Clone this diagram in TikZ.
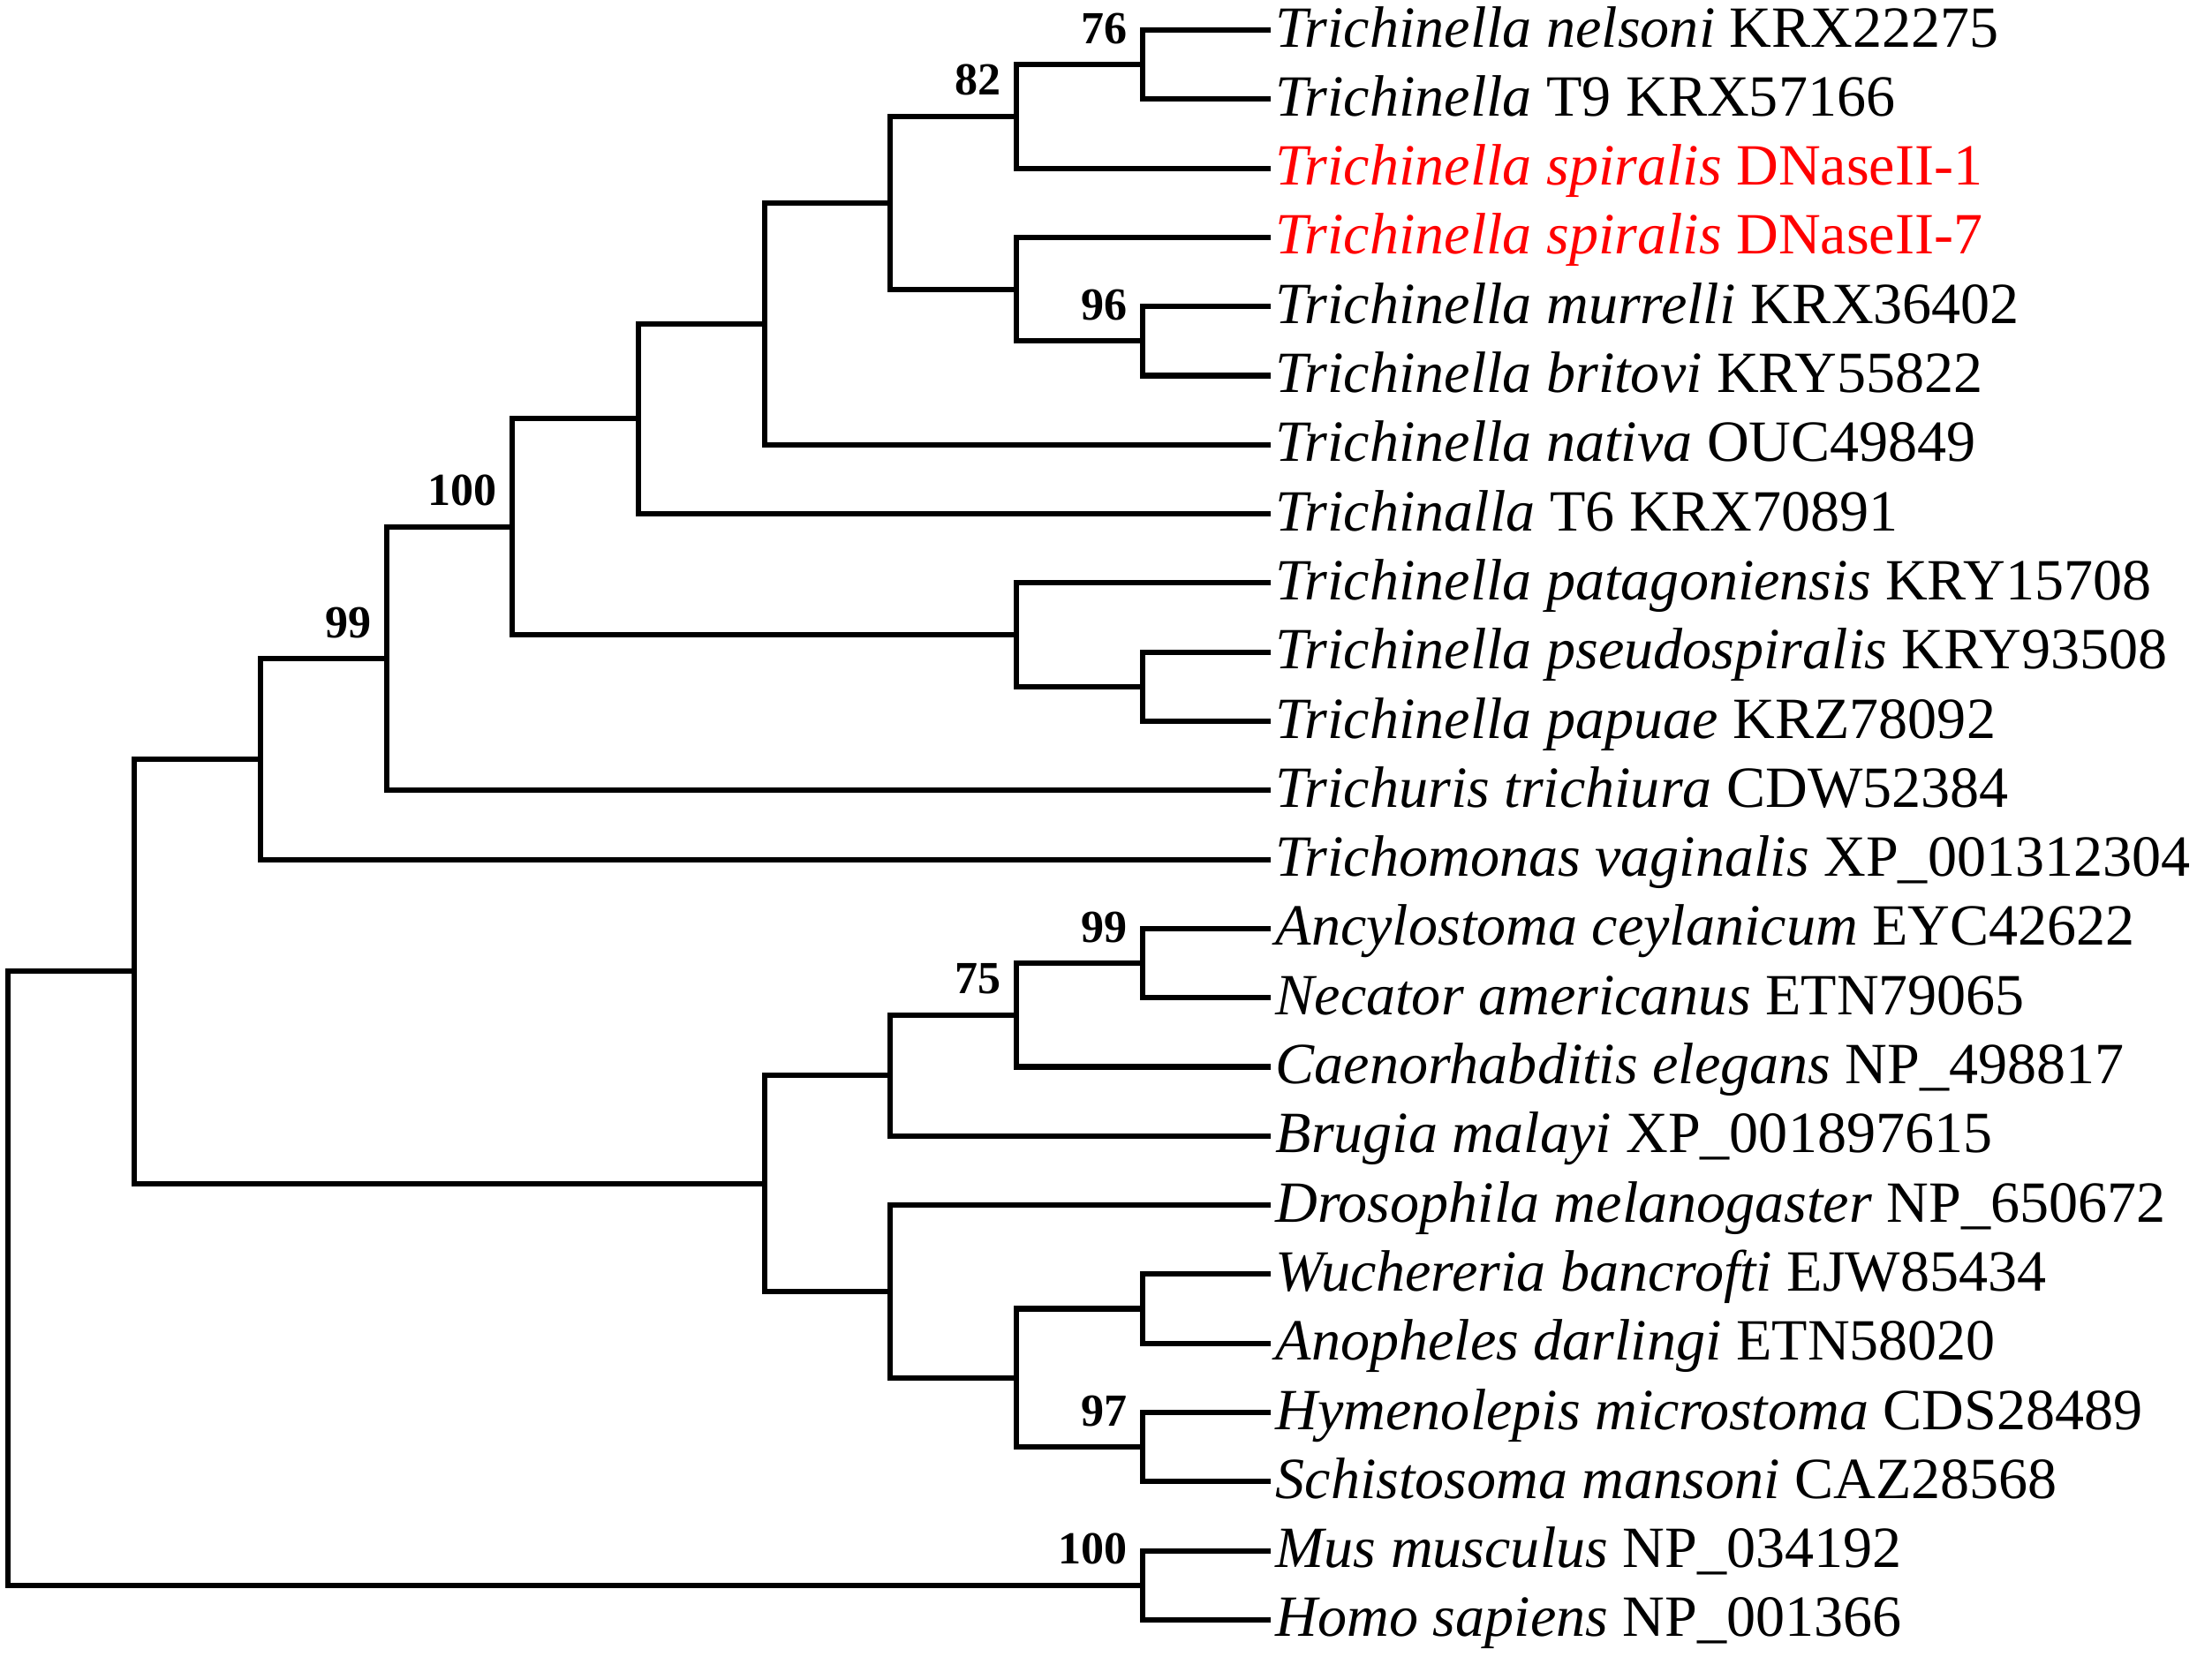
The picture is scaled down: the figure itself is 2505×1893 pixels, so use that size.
\documentclass[tikz,border=0pt]{standalone}
\usepackage{fontspec}
\setmainfont{Liberation Serif}
\begin{document}
\begin{tikzpicture}[x=0.01cm,y=-0.01cm,
  branch/.style={line width=1.75pt,line join=miter,line cap=butt},
  leaf/.style={anchor=base west,inner sep=0pt,font=\fontsize{18.8}{22}\selectfont},
  boot/.style={anchor=base east,inner sep=0pt,font=\fontsize{14.8}{17}\selectfont\bfseries},
  hl/.style={text=red}]
\useasboundingbox[fill=white] (0,0) rectangle (2505,1893);
% tips
\foreach \i/\yy in {0/34,1/112.3,2/190.6,3/268.9,4/347.2,5/425.5,6/503.8,7/582.1,
  8/660.4,9/738.7,10/817,11/895.3,12/973.6,13/1051.9,14/1130.2,15/1208.5,
  16/1286.8,17/1365.1,18/1443.4,19/1521.7,20/1600,21/1678.3,22/1756.6,23/1834.9}
  {\coordinate (t\i) at (1439,\yy);}
% internal nodes
\coordinate (N) at (1294,73.15);
\coordinate (K) at (1151,131.9);
\coordinate (O) at (1294,386.35);
\coordinate (M) at (1151,327.6);
\coordinate (J) at (1008,229.8);
\coordinate (I) at (866,366.8);
\coordinate (F) at (723,474.4);
\coordinate (H) at (1294,777.85);
\coordinate (G) at (1151,719.1);
\coordinate (E) at (580,596.8);
\coordinate (D) at (438,746.0);
\coordinate (B) at (295,859.8);
\coordinate (S) at (1294,1091.05);
\coordinate (R) at (1151,1149.8);
\coordinate (P) at (1008,1218.3);
\coordinate (U) at (1294,1482.55);
\coordinate (V) at (1294,1639.15);
\coordinate (T) at (1151,1560.85);
\coordinate (Q) at (1008,1463.0);
\coordinate (C) at (866,1340.6);
\coordinate (A) at (152,1100.2);
\coordinate (MH) at (1294,1795.75);
\coordinate (root) at (9,1448.0);
% branches
\foreach \a/\n/\b in {t0/N/t1, N/K/t2, t4/O/t5, t3/M/O, K/J/M, J/I/t6, I/F/t7,
  t9/H/t10, t8/G/H, F/E/G, E/D/t11, D/B/t12, t13/S/t14, S/R/t15, R/P/t16,
  t18/U/t19, t20/V/t21, U/T/V, t17/Q/T, P/C/Q, B/A/C, t22/MH/t23, A/root/MH}
  {\draw[branch] (\a) -| (\n) |- (\b);}
% bootstrap values
\foreach \n/\v in {N/76, K/82, O/96, E/100, D/99, S/99, R/75, V/97, MH/100}
  {\node[boot] (b\n) at ([shift={(-17,-24)}]\n) {\v};}
% leaf labels
\node[leaf] (l0) at ([shift={(5,19)}]t0) {\textit{Trichinella nelsoni} KRX22275};
\node[leaf] (l1) at ([shift={(5,19)}]t1) {\textit{Trichinella} T9 KRX57166};
\node[leaf,hl] (l2) at ([shift={(5,19)}]t2) {\textit{Trichinella spiralis} DNaseII-1};
\node[leaf,hl] (l3) at ([shift={(5,19)}]t3) {\textit{Trichinella spiralis} DNaseII-7};
\node[leaf] (l4) at ([shift={(5,19)}]t4) {\textit{Trichinella murrelli} KRX36402};
\node[leaf] (l5) at ([shift={(5,19)}]t5) {\textit{Trichinella britovi} KRY55822};
\node[leaf] (l6) at ([shift={(5,19)}]t6) {\textit{Trichinella nativa} OUC49849};
\node[leaf] (l7) at ([shift={(5,19)}]t7) {\textit{Trichinalla} T6 KRX70891};
\node[leaf] (l8) at ([shift={(5,19)}]t8) {\textit{Trichinella patagoniensis} KRY15708};
\node[leaf] (l9) at ([shift={(5,19)}]t9) {\textit{Trichinella pseudospiralis} KRY93508};
\node[leaf] (l10) at ([shift={(5,19)}]t10) {\textit{Trichinella papuae} KRZ78092};
\node[leaf] (l11) at ([shift={(5,19)}]t11) {\textit{Trichuris trichiura} CDW52384};
\node[leaf] (l12) at ([shift={(5,19)}]t12) {\textit{Trichomonas vaginalis} XP\_001312304};
\node[leaf] (l13) at ([shift={(5,19)}]t13) {\textit{Ancylostoma ceylanicum} EYC42622};
\node[leaf] (l14) at ([shift={(5,19)}]t14) {\textit{Necator americanus} ETN79065};
\node[leaf] (l15) at ([shift={(5,19)}]t15) {\textit{Caenorhabditis elegans} NP\_498817};
\node[leaf] (l16) at ([shift={(5,19)}]t16) {\textit{Brugia malayi} XP\_001897615};
\node[leaf] (l17) at ([shift={(5,19)}]t17) {\textit{Drosophila melanogaster} NP\_650672};
\node[leaf] (l18) at ([shift={(5,19)}]t18) {\textit{Wuchereria bancrofti} EJW85434};
\node[leaf] (l19) at ([shift={(5,19)}]t19) {\textit{Anopheles darlingi} ETN58020};
\node[leaf] (l20) at ([shift={(5,19)}]t20) {\textit{Hymenolepis microstoma} CDS28489};
\node[leaf] (l21) at ([shift={(5,19)}]t21) {\textit{Schistosoma mansoni} CAZ28568};
\node[leaf] (l22) at ([shift={(5,19)}]t22) {\textit{Mus musculus} NP\_034192};
\node[leaf] (l23) at ([shift={(5,19)}]t23) {\textit{Homo sapiens} NP\_001366};
\end{tikzpicture}
\end{document}
